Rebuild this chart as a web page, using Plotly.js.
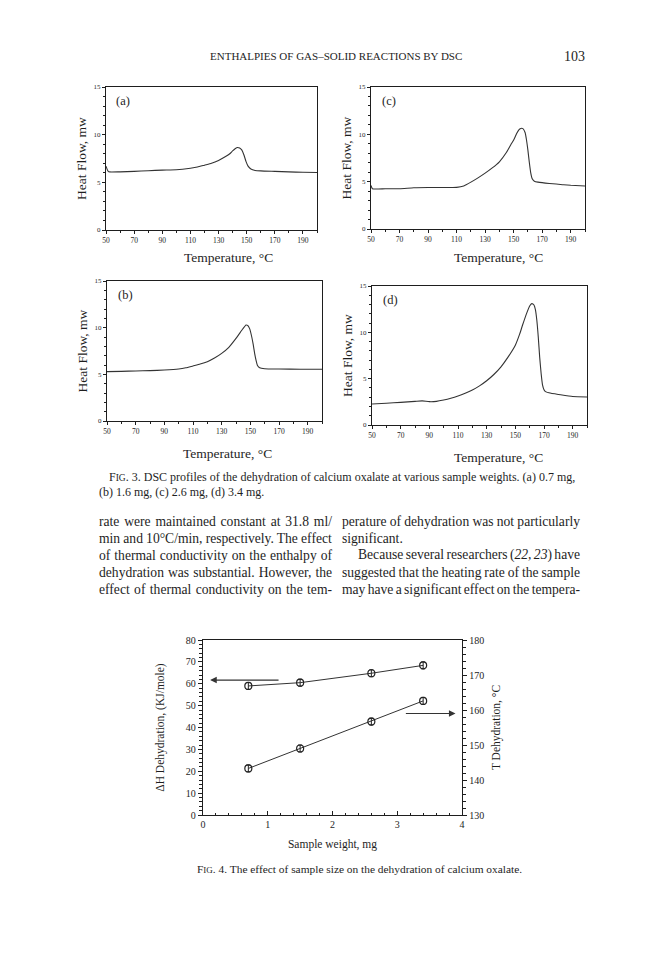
<!DOCTYPE html>
<html>
<head>
<meta charset="utf-8">
<script src="https://cdn.plot.ly/plotly-3.0.1.min.js"></script>
<style>html,body{margin:0;padding:0;background:#fff;}#chart{width:672px;height:960px;}</style>
</head>
<body>
<div id="chart"></div>
<script>
// ---- Fig. 3 DSC profiles (Temperature °C vs Heat Flow mW) ----
const tempA = [50, 51, 52, 60, 70, 80, 90, 100, 110, 115, 120, 125, 130, 135, 138, 140, 142, 143.5, 145, 146.5, 148, 149.5, 151, 153, 156, 160, 170, 180, 190, 200];
const heatA = [6.7, 6.3, 6.1, 6.1, 6.15, 6.22, 6.28, 6.32, 6.48, 6.6, 6.8, 7.0, 7.3, 7.7, 8.0, 8.3, 8.55, 8.66, 8.6, 8.4, 7.9, 7.2, 6.7, 6.4, 6.25, 6.2, 6.15, 6.1, 6.05, 6.03];

const tempB = [50, 60, 70, 80, 90, 100, 105, 110, 115, 120, 125, 130, 135, 140, 143, 145, 147, 148, 149.5, 151, 152, 153, 154, 155, 156.5, 160, 170, 185, 200];
const heatB = [5.29, 5.32, 5.36, 5.4, 5.46, 5.57, 5.7, 5.9, 6.1, 6.36, 6.75, 7.25, 7.9, 8.86, 9.5, 9.93, 10.28, 10.25, 9.9, 9.0, 8.2, 7.25, 6.5, 5.95, 5.7, 5.6, 5.57, 5.55, 5.54];

const tempC = [50, 51, 60, 70, 80, 90, 100, 110, 115, 120, 125, 130, 135, 140, 145, 148, 150, 152, 153.5, 155, 156.5, 158, 159, 160, 161, 162, 163, 164.5, 167, 175, 185, 190, 200];
const heatC = [4.6, 4.25, 4.25, 4.25, 4.35, 4.38, 4.38, 4.4, 4.55, 4.95, 5.4, 5.9, 6.45, 7.1, 8.1, 8.9, 9.4, 10.05, 10.45, 10.62, 10.6, 10.2, 9.4, 8.3, 7.0, 5.9, 5.3, 5.05, 4.95, 4.8, 4.68, 4.62, 4.55];

const tempD = [50, 60, 70, 80, 85, 90, 95, 100, 105, 110, 115, 120, 125, 130, 135, 140, 145, 150, 153, 155, 158, 160, 161.5, 163, 164, 165, 166, 167, 168, 169, 170, 171, 175, 180, 190, 200];
const heatD = [2.26, 2.35, 2.44, 2.55, 2.6, 2.52, 2.55, 2.69, 2.88, 3.12, 3.42, 3.77, 4.22, 4.77, 5.45, 6.28, 7.35, 8.61, 9.8, 10.76, 12.1, 12.85, 13.1, 12.95, 12.45, 11.3, 9.5, 7.3, 5.56, 4.3, 3.8, 3.6, 3.42, 3.3, 3.07, 3.02];

const panelLabels = ['(a)', '(b)', '(c)', '(d)'];
const tempTicks = [50, 70, 90, 110, 130, 150, 170, 190];
const heatTicks = [0, 5, 10, 15];

// ---- Fig. 4 effect of sample size ----
const sampleWeight = [0.7, 1.5, 2.6, 3.4];
const dHDehydration = [59.0, 60.5, 64.8, 68.4];
const dHError = [1.6, 1.6, 1.6, 1.6];
const tDehydration = [143.3, 149.0, 156.7, 162.6];
const tError = [1.0, 1.0, 1.0, 1.0];
const weightTicks = [0, 1, 2, 3, 4];
const dHTicks = [0, 10, 20, 30, 40, 50, 60, 70, 80];
const tTicks = [130, 140, 150, 160, 170, 180];

// ---- page text ----
const header = 'ENTHALPIES OF GAS–SOLID REACTIONS BY DSC';
const pageNumber = '103';
const fig3Caption = [
  'F<span style="font-size:9.5px">IG</span>. 3. DSC profiles of the dehydration of calcium oxalate at various sample weights. (a) 0.7 mg,',
  '(b) 1.6 mg, (c) 2.6 mg, (d) 3.4 mg.'
];
const leftColumn = [
  'rate were maintained constant at 31.8 ml/',
  'min and 10°C/min, respectively. The effect',
  'of thermal conductivity on the enthalpy of',
  'dehydration was substantial. However, the',
  'effect of thermal conductivity on the tem-'
];
const rightColumn = [
  'perature of dehydration was not particularly',
  'significant.',
  'Because several researchers (<i>22, 23</i>) have',
  'suggested that the heating rate of the sample',
  'may have a significant effect on the tempera-'
];
const fig4Caption = 'F<span style="font-size:9px">IG</span>. 4. The effect of sample size on the dehydration of calcium oxalate.';

// ---------------------------------------------------------------
const W = 672, H = 960;
const SERIF = 'Liberation Serif, Times New Roman, serif';
const INK = '#1e1e1e';
const px = v => v / W;
const py = v => 1 - v / H;

const lineStyle = {color: '#333', width: 1.1, shape: 'spline', smoothing: 0.5};

const traces = [
  {x: tempA, y: heatA, xaxis: 'x', yaxis: 'y', mode: 'lines', line: lineStyle, name: '(a) 0.7 mg'},
  {x: tempC, y: heatC, xaxis: 'x2', yaxis: 'y2', mode: 'lines', line: lineStyle, name: '(c) 2.6 mg'},
  {x: tempB, y: heatB, xaxis: 'x3', yaxis: 'y3', mode: 'lines', line: lineStyle, name: '(b) 1.6 mg'},
  {x: tempD, y: heatD, xaxis: 'x4', yaxis: 'y4', mode: 'lines', line: lineStyle, name: '(d) 3.4 mg'},
  {x: sampleWeight, y: dHDehydration, xaxis: 'x5', yaxis: 'y5', mode: 'lines+markers',
   line: {color: '#333', width: 1}, marker: {symbol: 'circle-open', size: 7, color: '#222', line: {width: 1.2}},
   error_y: {type: 'data', array: dHError, visible: true, color: '#222', thickness: 1, width: 2},
   name: 'ΔH Dehydration'},
  {x: sampleWeight, y: tDehydration, xaxis: 'x5', yaxis: 'y6', mode: 'lines+markers',
   line: {color: '#333', width: 1}, marker: {symbol: 'circle-open', size: 7, color: '#222', line: {width: 1.2}},
   error_y: {type: 'data', array: tError, visible: true, color: '#222', thickness: 1, width: 2},
   name: 'T Dehydration'}
];

function tAxis(domain, anchor) {
  return {
    domain: domain, anchor: anchor, range: [50, 200],
    tickvals: tempTicks, ticks: 'outside', ticklen: 3, tickwidth: 1, tickcolor: INK,
    minor: {dtick: 10, tick0: 50, ticks: 'outside', ticklen: 2, tickcolor: INK},
    showline: true, linecolor: INK, linewidth: 1.2, mirror: true,
    showgrid: false, zeroline: false,
    tickfont: {family: SERIF, size: 7.5, color: INK}
  };
}
function hAxis(domain, anchor) {
  return {
    domain: domain, anchor: anchor, range: [0, 15],
    tickvals: heatTicks, ticks: 'outside', ticklen: 3, tickwidth: 1, tickcolor: INK,
    minor: {dtick: 1, ticks: 'outside', ticklen: 2, tickcolor: INK},
    showline: true, linecolor: INK, linewidth: 1.2, mirror: true,
    showgrid: false, zeroline: false,
    tickfont: {family: SERIF, size: 7, color: INK},
    title: {text: 'Heat Flow, mw', font: {family: SERIF, size: 13.5, color: INK}, standoff: 3}
  };
}

const layout = {
  width: W, height: H,
  margin: {l: 0, r: 0, t: 0, b: 0},
  paper_bgcolor: '#fff', plot_bgcolor: 'rgba(0,0,0,0)',
  showlegend: false,
  font: {family: SERIF, color: INK},
  xaxis: tAxis([px(106), px(317)], 'y'),
  yaxis: hAxis([py(230), py(87)], 'x'),
  xaxis2: tAxis([px(371), px(585)], 'y2'),
  yaxis2: hAxis([py(229), py(87)], 'x2'),
  xaxis3: tAxis([px(107), px(322)], 'y3'),
  yaxis3: hAxis([py(421), py(281)], 'x3'),
  xaxis4: tAxis([px(372), px(587)], 'y4'),
  yaxis4: hAxis([py(425), py(286)], 'x4'),
  xaxis5: {
    domain: [px(203), px(462)], anchor: 'y5', range: [0, 4],
    tickvals: weightTicks, ticks: 'inside', ticklen: 4, tickcolor: INK,
    minor: {dtick: 0.2, ticks: 'inside', ticklen: 2.5, tickcolor: INK},
    showline: true, linecolor: INK, linewidth: 1.2, mirror: true,
    showgrid: false, zeroline: false,
    tickfont: {family: SERIF, size: 10, color: INK},
    title: {text: 'Sample weight, mg', font: {family: SERIF, size: 11.5, color: INK}, standoff: 10}
  },
  yaxis5: {
    domain: [py(815), py(640)], anchor: 'x5', range: [0, 80],
    tickvals: dHTicks, ticks: 'outside', ticklen: 4, tickcolor: INK,
    minor: {dtick: 2, ticks: 'outside', ticklen: 2.5, tickcolor: INK},
    showline: true, linecolor: INK, linewidth: 1.2,
    showgrid: false, zeroline: false,
    tickfont: {family: SERIF, size: 10, color: INK},
    title: {text: 'ΔH Dehydration, (KJ/mole)', font: {family: SERIF, size: 11.5, color: INK}, standoff: 18}
  },
  yaxis6: {
    overlaying: 'y5', side: 'right', anchor: 'x5', range: [130, 180],
    tickvals: tTicks, ticks: 'outside', ticklen: 4, tickcolor: INK,
    minor: {dtick: 2, ticks: 'outside', ticklen: 2.5, tickcolor: INK},
    showline: true, linecolor: INK, linewidth: 1.2,
    showgrid: false, zeroline: false,
    tickfont: {family: SERIF, size: 10, color: INK},
    title: {text: 'T Dehydration, °C', font: {family: SERIF, size: 11.5, color: INK}, standoff: 8}
  },
  annotations: []
};

const ann = layout.annotations;
function text(t, x, y, size, anchor, extra) {
  ann.push(Object.assign({
    text: t, xref: 'paper', yref: 'paper', x: px(x), y: py(y),
    xanchor: anchor || 'left', yanchor: 'middle', showarrow: false,
    font: {family: SERIF, size: size, color: INK}
  }, extra || {}));
}

// justify a line to a target width using word-spacing (measured with canvas)
const ctx = document.createElement('canvas').getContext('2d');
function justify(line, size, width) {
  ctx.font = size + 'px "Liberation Serif"';
  const plain = line.replace(/<[^>]+>/g, '');
  const spaces = (plain.match(/ /g) || []).length;
  const natural = ctx.measureText(plain).width;
  const extra = spaces ? (width - natural) / spaces : 0;
  return '<span style="word-spacing:' + extra.toFixed(2) + 'px">' + line + '</span>';
}

// header
text(header, 336, 56, 11, 'center');
text(pageNumber, 574, 56, 14, 'center');

// panel labels
const labelAxes = [['x', 'y'], ['x3', 'y3'], ['x2', 'y2'], ['x4', 'y4']];
panelLabels.forEach((lab, i) => {
  ann.push({text: lab, xref: labelAxes[i][0] + ' domain', yref: labelAxes[i][1] + ' domain',
    x: 0.04, y: 0.9, xanchor: 'left', yanchor: 'middle', showarrow: false,
    font: {family: SERIF, size: 12.5, color: INK}});
});

// x titles of Fig. 3 (set slightly right of centre, as printed)
const xTitlePos = [[228, 257], [498, 257], [227, 453], [498, 457]];
xTitlePos.forEach(p => text('Temperature, °C', p[0], p[1], 13.5, 'center'));

// captions and body text
text(fig3Caption[0], 107, 477, 12);
text(fig3Caption[1], 97, 492, 12);
const bodyY = [521, 538, 555, 572, 589];
const BODY = 13.6;
leftColumn.forEach((l, i) => text(justify(l, BODY, 233), 97, bodyY[i], BODY));
rightColumn.forEach((l, i) => {
  if (i === 1) text(l, 340, bodyY[i], BODY);
  else if (i === 2) text(justify(l, BODY, 222), 356, bodyY[i], BODY);
  else text(justify(l, BODY, 238), 340, bodyY[i], BODY);
});
text(fig4Caption, 195, 869, 11.4);

// arrows in Fig. 4
ann.push({text: '', xref: 'x5', yref: 'y5', x: 0.11, y: 61.7, axref: 'x5', ayref: 'y5', ax: 1.19, ay: 61.7,
  showarrow: true, arrowhead: 2, arrowsize: 1.1, arrowwidth: 1.2, arrowcolor: '#333'});
ann.push({text: '', xref: 'x5', yref: 'y6', x: 3.9, y: 159.0, axref: 'x5', ayref: 'y6', ax: 3.11, ay: 159.0,
  showarrow: true, arrowhead: 2, arrowsize: 1.1, arrowwidth: 1.2, arrowcolor: '#333'});

Plotly.newPlot('chart', traces, layout, {staticPlot: true, displayModeBar: false});
</script>
</body>
</html>
